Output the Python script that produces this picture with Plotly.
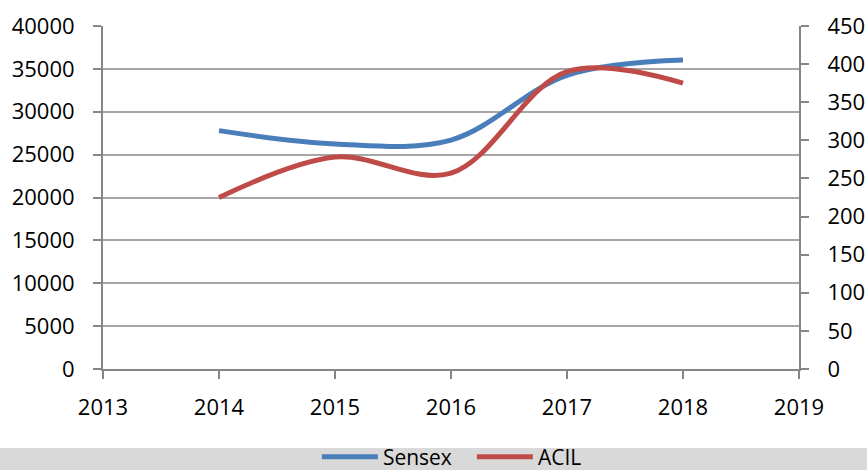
import plotly.graph_objects as go

years = [2014, 2015, 2016, 2017, 2018]
sensex = [27800, 26250, 26700, 34250, 36030]
acil = [225, 278, 257, 390, 375]

x_ticks = [2013, 2014, 2015, 2016, 2017, 2018, 2019]

FONT = "Open Sans, DejaVu Sans, sans-serif"
BLUE = "#4a7ebb"
RED = "#be4b48"
AXIS = "#868686"
GRID = "#a6a6a6"

fig = go.Figure()
fig.add_trace(go.Scatter(x=years, y=sensex, name="Sensex", mode="lines",
                         line=dict(color=BLUE, width=5, shape="spline", smoothing=1)))
fig.add_trace(go.Scatter(x=years, y=acil, name="ACIL", mode="lines", yaxis="y2",
                         line=dict(color=RED, width=5, shape="spline", smoothing=1)))

L, R, T, B = 103, 68, 26, 101
W, H = 867, 470
pw, ph = W - L - R, H - T - B

fig.add_shape(type="rect", xref="paper", yref="paper",
              x0=-L / pw, x1=(W - L) / pw,
              y0=-(448 - (H - B)) / ph, y1=-(470 - (H - B)) / ph,
              fillcolor="#d9d9d9", line=dict(width=0), layer="below")

fig.update_layout(
    width=W, height=H,
    margin=dict(l=L, r=R, t=T, b=B, autoexpand=False),
    paper_bgcolor="white", plot_bgcolor="white",
    font=dict(family=FONT, size=22, color="black"),
    showlegend=True,
    legend=dict(orientation="h", x=0.53, xanchor="center",
                y=-(457 - (H - B)) / ph, yanchor="middle",
                bgcolor="rgba(0,0,0,0)", font=dict(family=FONT, size=21),
                itemwidth=56, entrywidth=84),
    xaxis=dict(range=[2013, 2019], tickvals=x_ticks, ticktext=[str(v) for v in x_ticks],
               showgrid=False, zeroline=False, showline=True, linecolor=AXIS, linewidth=2,
               ticks="outside", ticklen=8, tickwidth=2, tickcolor=AXIS, automargin=False,
               ticklabelstandoff=10, tickfont=dict(size=22)),
    yaxis=dict(range=[0, 40000], dtick=5000, tickformat="d", showgrid=True, gridcolor=GRID, gridwidth=2,
               zeroline=False, showline=True, linecolor=AXIS, linewidth=2, automargin=False,
               ticks="outside", ticklen=8, tickwidth=2, tickcolor=AXIS,
               ticklabelstandoff=14, tickfont=dict(size=22)),
    yaxis2=dict(range=[0, 450], dtick=50, tickformat="d", overlaying="y", side="right", showgrid=False,
                zeroline=False, showline=True, linecolor=AXIS, linewidth=2, automargin=False,
                ticks="outside", ticklen=8, tickwidth=2, tickcolor=AXIS,
                ticklabelstandoff=14, tickfont=dict(size=22)),
)

fig.write_html("out.html", config={"displayModeBar": False},
               post_script="document.body.style.margin='0';document.body.style.overflow='hidden';")
